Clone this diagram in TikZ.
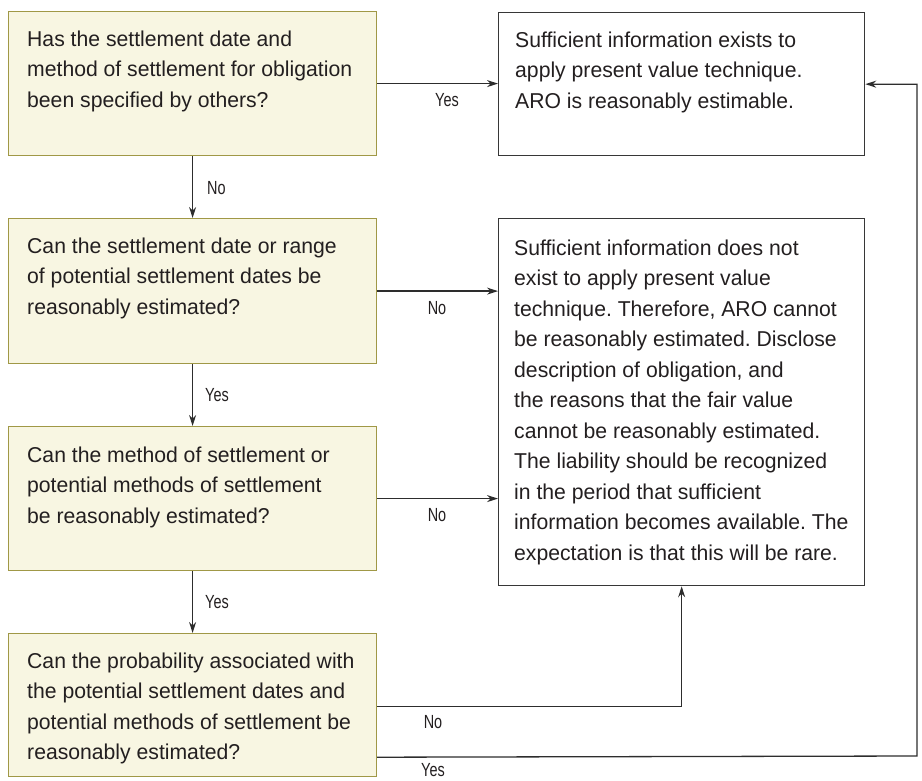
\documentclass[tikz,border=0pt]{standalone}
\usepackage{fontspec}
\setmainfont{Liberation Sans}
\newfontfamily\bodyfont[FakeStretch=0.985]{Liberation Sans}
\newfontfamily\lblfont[FakeStretch=0.76]{Liberation Sans}
\usetikzlibrary{arrows.meta}
\definecolor{qfill}{RGB}{248,246,226}
\definecolor{qborder}{RGB}{160,152,70}
\definecolor{rborder}{RGB}{55,55,55}
\definecolor{ink}{RGB}{35,31,32}
\definecolor{lineink}{RGB}{45,45,45}
\frenchspacing
\begin{document}
\begin{tikzpicture}[x=1pt,y=-1pt,
  qbox/.style={draw=qborder,fill=qfill,line width=1.2pt,rectangle,inner sep=0,anchor=north west,minimum width=368pt},
  rbox/.style={draw=rborder,fill=white,line width=1.3pt,rectangle,inner sep=0,anchor=north west,minimum width=366pt},
  txt/.style={inner sep=0,anchor=north west,align=left,text=ink,font=\bodyfont\frenchspacing\fontsize{21.5}{30.5}\selectfont},
  lbl/.style={inner sep=0,text=ink,font=\lblfont\fontsize{19}{22}\selectfont},
  arr/.style={draw=lineink,line width=1.3pt,-{Stealth[length=11pt,width=7pt]}}
]
\useasboundingbox (0,0) rectangle (922,780);
% boxes
\node[qbox,minimum height=144pt] (q1) at (8,11) {};
\node[qbox,minimum height=145pt] (q2) at (8,218) {};
\node[qbox,minimum height=144pt] (q3) at (8,426) {};
\node[qbox,minimum height=143pt] (q4) at (8,633) {};
\node[rbox,minimum height=143pt] (r1) at (498,12) {};
\node[rbox,minimum height=367pt] (r2) at (498,218) {};
% texts
\node[txt] (q1t) at ([xshift=19pt,yshift=-19.6pt]q1.north west) {Has the settlement date and\\method of settlement for obligation\\been specified by others?};
\node[txt] (q2t) at ([xshift=19pt,yshift=-19.6pt]q2.north west) {Can the settlement date or range\\of potential settlement dates be\\reasonably estimated?};
\node[txt] (q3t) at ([xshift=19pt,yshift=-20.6pt]q3.north west) {Can the method of settlement or\\potential methods of settlement\\be reasonably estimated?};
\node[txt] (q4t) at ([xshift=19pt,yshift=-19.6pt]q4.north west) {Can the probability associated with\\the potential settlement dates and\\potential methods of settlement be\\reasonably estimated?};
\node[txt] (r1t) at ([xshift=17pt,yshift=-19.6pt]r1.north west) {Sufficient information exists to\\apply present value technique.\\ARO is reasonably estimable.};
\node[txt] (r2t) at ([xshift=16pt,yshift=-21.6pt]r2.north west) {Sufficient information does not\\exist to apply present value\\technique. Therefore, ARO cannot\\be reasonably estimated. Disclose\\description of obligation, and\\the reasons that the fair value\\cannot be reasonably estimated.\\The liability should be recognized\\in the period that sufficient\\information becomes available. The\\expectation is that this will be rare.};
% connectors
\coordinate (turn) at (917,756);
\draw[arr] (q1.east) -- (q1.east -| r1.west);
\draw[arr] (q1.south) -- (q2.north);
\draw[arr] (q2.east) -- (q2.east -| r2.west);
\draw[arr] (q2.south) -- (q3.north);
\draw[arr] (q3.east) -- (q3.east -| r2.west);
\draw[arr] (q3.south) -- (q4.north);
\draw[arr] ([yshift=-1.5pt]q4.east) -| (r2.south);
\draw[arr] ([yshift=20pt]q4.south east) -- (turn) |- (r1.east);
% labels
\node[lbl] (l1) at (447,100) {Yes};
\node[lbl,anchor=west] (l2) at (207,188) {No};
\node[lbl] (l3) at (437,308) {No};
\node[lbl,anchor=west] (l4) at (205,395) {Yes};
\node[lbl] (l5) at (437,515) {No};
\node[lbl,anchor=west] (l6) at (205,602) {Yes};
\node[lbl] (l7) at (433,722) {No};
\node[lbl] (l8) at (433,770) {Yes};
\end{tikzpicture}
\end{document}
